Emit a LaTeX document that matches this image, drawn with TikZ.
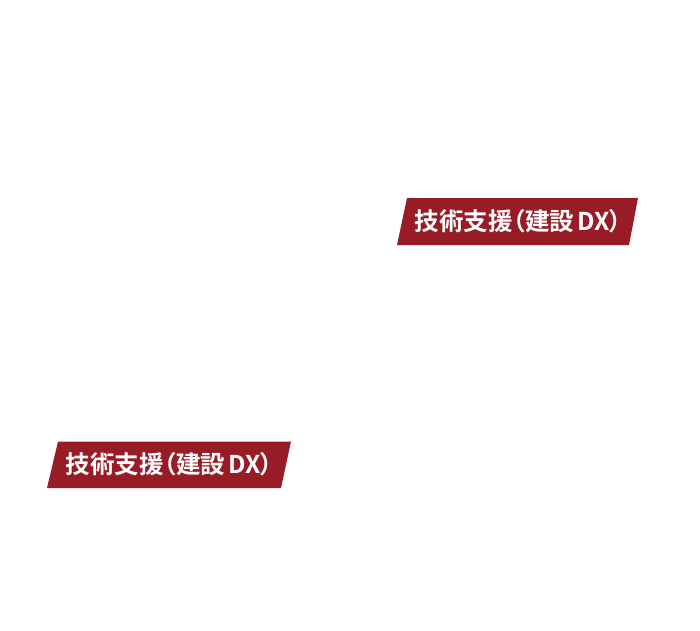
\documentclass[tikz,border=0pt]{standalone}
\usepackage{fontspec}
\newfontfamily\cjk{Noto Sans CJK JP}[BoldFont={Noto Sans CJK JP Bold},RawFeature=+palt]
\definecolor{tagred}{HTML}{981C26}
\begin{document}
\begin{tikzpicture}[x=1pt,y=-1pt,
  tagbox/.style={fill=tagred,draw=none},
  tagtext/.style={text=white,font=\cjk\bfseries\fontsize{24.5}{26}\selectfont,inner sep=0pt}]
\useasboundingbox[fill=white] (0,0) rectangle (700,630);
\fill[tagbox] (407,198) -- (638,198) -- (629,245) -- (397,245) -- cycle;
\node[tagtext] (t1) at (518.5,221) {技術支援（建設\hspace{0.15em}DX）};
\fill[tagbox] (58,441.5) -- (291,441.5) -- (281,488) -- (47,488) -- cycle;
\node[tagtext] (t2) at (169.5,464.5) {技術支援（建設\hspace{0.15em}DX）};
\end{tikzpicture}
\end{document}
